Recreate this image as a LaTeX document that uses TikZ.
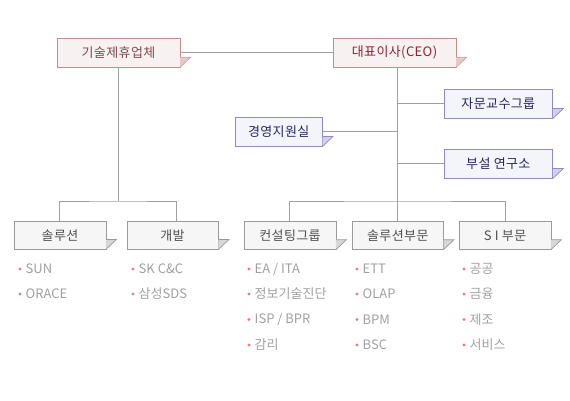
\documentclass[tikz,border=0pt]{standalone}
\usepackage{fontspec}
\setmainfont{Noto Sans CJK KR}
\newfontfamily\boxfont[LetterSpace=3]{Noto Sans CJK KR}
\newfontfamily\itemfont{Noto Sans CJK KR}
\definecolor{topfill}{HTML}{F8F1F1}
\definecolor{topline}{HTML}{C48A8E}
\definecolor{toptext}{HTML}{7E4A50}
\definecolor{ceotext}{HTML}{8A2434}
\definecolor{midfill}{HTML}{F4F4FB}
\definecolor{midline}{HTML}{8E88CC}
\definecolor{midtext}{HTML}{26265E}
\definecolor{botfill}{HTML}{F6F6F6}
\definecolor{botline}{HTML}{9A9A9A}
\definecolor{bottext}{HTML}{505050}
\definecolor{conn}{HTML}{A0A0A0}
\definecolor{itemtext}{HTML}{A0A0A0}
\definecolor{dotc}{HTML}{F07A7A}
\tikzset{
  x=1pt, y=-1pt,
  orgbox/.style={draw, rectangle, inner sep=0pt, minimum height=29pt, font=\boxfont\fontsize{13}{15}\selectfont},
  topbox/.style={orgbox, fill=topfill, draw=topline, text=toptext, minimum width=123pt},
  midbox/.style={orgbox, fill=midfill, draw=midline, text=midtext},
  botbox/.style={orgbox, fill=botfill, draw=botline, text=bottext, minimum width=91.4pt, minimum height=28pt},
  conline/.style={draw=conn, line width=0.9pt},
  itemnode/.style={anchor=west, inner sep=0pt, text=itemtext, font=\itemfont\fontsize{13}{15}\selectfont},
  dotnode/.style={circle, fill=dotc, inner sep=0pt, minimum size=3.2pt}
}
\newcommand{\tabcorner}[3]{%
  \fill[#2] (#1.south east) ++(0,-10) -- ++(10.5,0) -- (#1.south east) -- cycle;
  \draw[#3, line width=0.7pt] ([yshift=10pt]#1.south east) -- ++(10.5,0) -- (#1.south east);
}
\newcommand{\itemat}[4]{%
  \node[dotnode] (#1d) at (#2,#3) {};
  \node[itemnode] (#1) at (#2+5.5,#3) {#4};
}
\begin{document}
\begin{tikzpicture}
\useasboundingbox (0,0) rectangle (570,400);
% top row
\node[topbox] (gisul) at (118.5,52.5) {기술제휴업체};
\node[topbox, text=ceotext] (ceo) at (394.5,52.5) {대표이사(CEO)};
% middle
\node[midbox, minimum width=108.7pt] (jamun) at (498.3,103.8) {자문교수그룹};
\node[midbox, minimum width=87.3pt] (gyeong) at (278.7,131.7) {경영지원실};
\node[midbox, minimum width=108.7pt] (buseol) at (498.3,163.8) {부설 연구소};
% bottom
\node[botbox] (sol) at (60,235.3) {솔루션};
\node[botbox] (gae) at (172.5,235.3) {개발};
\node[botbox] (con) at (290,235.5) {컨설팅그룹};
\node[botbox, minimum width=91pt] (solb) at (397.8,235.5) {솔루션부문};
\node[botbox] (si) at (505,235.5) {S I 부문};
% tabs
\tabcorner{gisul}{fill=topline!45}{draw=topline!80}
\tabcorner{ceo}{fill=topline!45}{draw=topline!80}
\tabcorner{jamun}{fill=midline!40}{draw=midline}
\tabcorner{gyeong}{fill=midline!40}{draw=midline}
\tabcorner{buseol}{fill=midline!40}{draw=midline}
\tabcorner{sol}{fill=botline!40}{draw=botline}
\tabcorner{gae}{fill=botline!40}{draw=botline}
\tabcorner{con}{fill=botline!40}{draw=botline}
\tabcorner{solb}{fill=botline!40}{draw=botline}
\tabcorner{si}{fill=botline!40}{draw=botline}
% coordinates
\coordinate (sp) at (397.3,201);
\coordinate (lb) at (118.5,201);
% connectors
\draw[conline] (gisul.east) -- (ceo.west);
\draw[conline] ([xshift=2.8pt]ceo.south) -- (sp);
\draw[conline] (jamun.west) -- (jamun.west -| sp);
\draw[conline] (gyeong.east) -- (gyeong.east -| sp);
\draw[conline] (buseol.west) -- (buseol.west -| sp);
\draw[conline] (gisul.south) -- (lb);
\draw[conline] ([xshift=-0.7pt]sol.north) |- (lb) -| ([xshift=4.2pt]gae.north);
\draw[conline] ([xshift=-0.7pt]con.north) |- (sp) -| (si.north);
\draw[conline] (sp) -- (solb.north -| sp);
% items
\itemat{i1}{20}{269}{SUN}
\itemat{i2}{20}{294}{ORACE}
\itemat{i3}{133}{269}{SK C\&C}
\itemat{i4}{133}{294}{삼성SDS}
\itemat{i5}{249}{269}{EA / ITA}
\itemat{i6}{249}{294}{정보기술진단}
\itemat{i7}{249}{319.5}{ISP / BPR}
\itemat{i8}{249}{345}{감리}
\itemat{i9}{357}{269}{ETT}
\itemat{i10}{357}{294}{OLAP}
\itemat{i11}{357}{319.5}{BPM}
\itemat{i12}{357}{345}{BSC}
\itemat{i13}{464}{269}{공공}
\itemat{i14}{464}{294}{금융}
\itemat{i15}{464}{319.5}{제조}
\itemat{i16}{464}{345}{서비스}
\end{tikzpicture}
\end{document}
